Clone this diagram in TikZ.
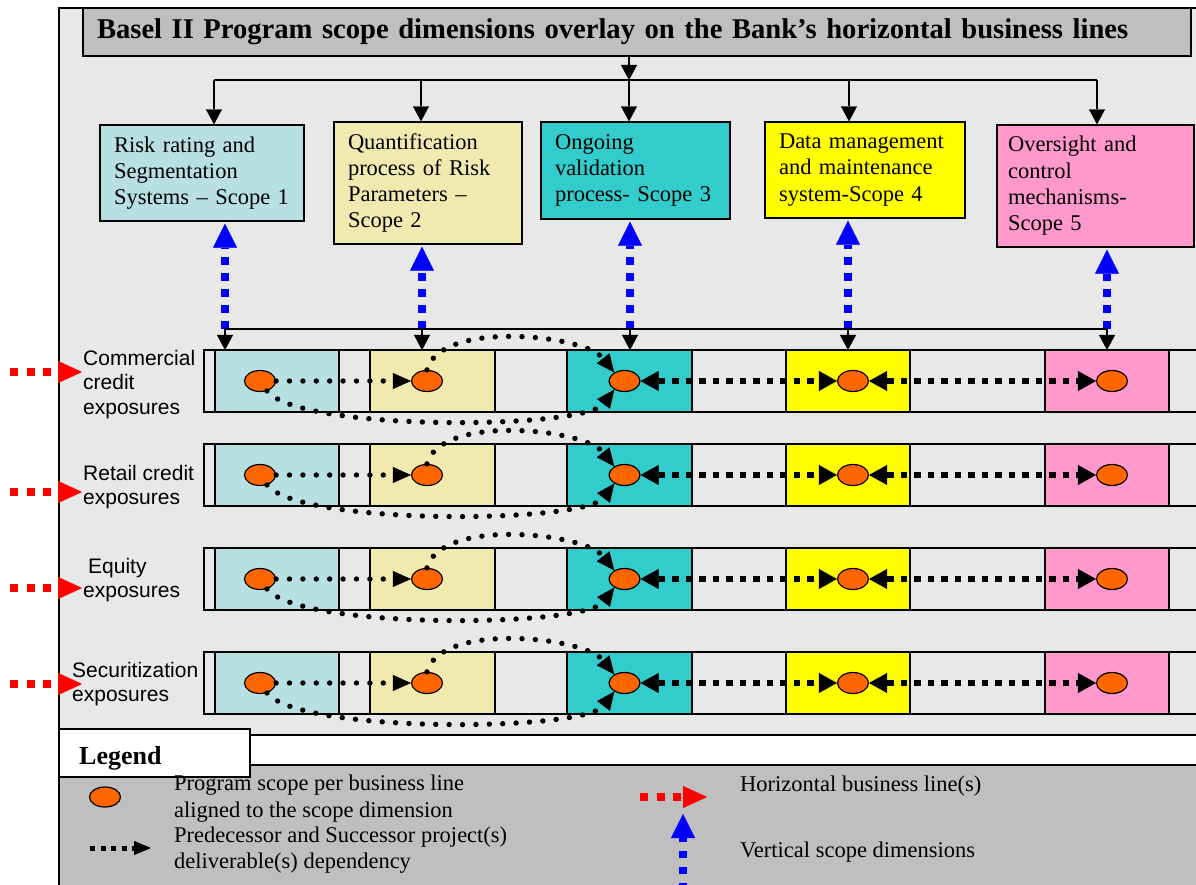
\documentclass[tikz,border=0pt]{standalone}
\usepackage{fontspec}
\setmainfont{Liberation Serif}
\setsansfont{Liberation Sans}
\usetikzlibrary{arrows.meta,shapes.geometric}

\begin{document}
\begin{tikzpicture}[x=1pt,y=1pt,
  scopebox/.style={draw=black,line width=1.3pt,inner xsep=14pt,inner ysep=0pt,align=left,
    font=\fontsize{22.5}{26.3}\selectfont},
  blob/.style={ellipse,draw=black,line width=1.2pt,fill=blobColor,minimum width=31pt,
    minimum height=21pt,inner sep=0pt},
  feed/.style={draw=black,line width=1.2pt,-{Triangle[length=15pt,width=16pt,line width=0.4pt]}},
  roundlink/.style={draw=black,line width=5.4pt,line cap=round,dash pattern=on 0pt off 13.4pt,
    -{Triangle[length=18pt,width=16pt,line width=0.4pt]}},
  sqlink/.style={draw=black,line width=6.5pt,dash pattern=on 6.5pt off 7pt,
    {Triangle[length=18pt,width=20pt,line width=0.4pt]}-{Triangle[length=18pt,width=20pt,line width=0.4pt]}},
  bluedim/.style={draw=blue,line width=7.5pt,dash pattern=on 7.5pt off 8.5pt,
    -{Triangle[length=24pt,width=24pt,line width=0.4pt]}},
  redline/.style={draw=red,line width=7.5pt,dash pattern=on 8pt off 8.5pt,
    -{Triangle[length=24pt,width=22pt,line width=0.4pt]}},
  rowlabel/.style={anchor=west,align=left,inner sep=0pt,font=\sffamily\fontsize{21}{24.5}\selectfont},
  keytext/.style={anchor=west,align=left,inner sep=0pt,font=\fontsize{22.5}{26.5}\selectfont}]
\definecolor{frameColor}{gray}{0.91}
\definecolor{headColor}{gray}{0.75}
\definecolor{blobColor}{RGB}{255,102,0}
\definecolor{sc1Color}{RGB}{184,224,227}
\definecolor{sc2Color}{RGB}{240,234,176}
\definecolor{sc3Color}{RGB}{51,204,204}
\definecolor{sc4Color}{RGB}{255,255,0}
\definecolor{sc5Color}{RGB}{255,153,204}
\path[use as bounding box,fill=white] (0,0) rectangle (1196,884);
\clip (0,0) rectangle (1196,884);

\path[draw=black,fill=frameColor,line width=1.5pt] (59,149) rectangle (1200,876);
\path[draw=black,fill=headColor,line width=1.5pt] (59,-6) rectangle (1200,119);

\node[draw=black,fill=headColor,line width=1.5pt,minimum width=1108pt,minimum height=48pt,
  inner xsep=14pt,text width=1080pt,align=left,font=\bfseries\fontsize{28.6}{33}\selectfont] (title)
  at (637,852) {Basel II Program scope dimensions overlay on the Bank’s horizontal business lines};

\node[scopebox,fill=sc1Color,text width=176pt,minimum height=96pt] (scope1) at (202,711)
  {Risk rating and\\Segmentation\\Systems – Scope 1};
\node[scopebox,fill=sc2Color,text width=160pt,minimum height=122pt] (scope2) at (428,701)
  {Quantification\\process of Risk\\Parameters –\\Scope 2};
\node[scopebox,fill=sc3Color,text width=161pt,minimum height=97pt] (scope3) at (635.5,713.5)
  {Ongoing\\validation\\process- Scope 3};
\node[scopebox,fill=sc4Color,text width=172pt,minimum height=96pt] (scope4) at (865,714)
  {Data management\\and maintenance\\system-Scope 4};
\node[scopebox,fill=sc5Color,inner xsep=11pt,text width=175pt,minimum height=122pt] (scope5) at (1095.5,698)
  {Oversight and\\control\\mechanisms-\\Scope 5};

\coordinate (hub) at (629,804);
\coordinate (hubL) at (214,804);
\coordinate (hubR) at (1097,804);
\draw[feed] (title.south -| hub) -- (hub);
\draw[line width=1.2pt] (hubL) -- (hubR);
\foreach \n/\x in {1/214,2/421,3/629,4/849,5/1097} {
  \coordinate (top\n) at (\x,804);
  \draw[feed] (top\n) -- (top\n |- scope\n.north);
}

\coordinate (bandtop) at (0,534);
\foreach \r/\yy in {1/503,2/409,3/305,4/201} {
  \path[draw=black,fill=frameColor,line width=1.2pt] (204,\yy-31) rectangle (1200,\yy+31);
  \foreach \xa/\xb/\cc in {215/339/sc1Color,370/495/sc2Color,567/692/sc3Color,786/910/sc4Color,1045/1169/sc5Color}
    \path[draw=black,fill=\cc,line width=1.2pt] (\xa,\yy-31) rectangle (\xb,\yy+31);
  \node[blob] (p\r1) at (260,\yy) {};
  \node[blob] (p\r2) at (427,\yy) {};
  \node[blob] (p\r3) at (624.5,\yy) {};
  \node[blob] (p\r4) at (853,\yy) {};
  \node[blob] (p\r5) at (1112,\yy) {};
  \draw[roundlink] (p\r1.east) -- (p\r2.west);
  \draw[roundlink] (p\r1.-55) .. controls +(33,-41) and +(-30,-40) .. (p\r3.-140);
  \draw[roundlink] (p\r2.90) .. controls +(13,50) and +(-30,38) .. (p\r3.140);
  \draw[sqlink] (p\r3.east) -- (p\r4.west);
  \draw[sqlink] (p\r4.east) -- (p\r5.west);
}

\foreach \n/\x in {1/225,2/422,3/630,4/848,5/1107} {
  \coordinate (dim\n) at (\x,555);
  \draw[bluedim,shorten >=2pt] (dim\n) -- (dim\n |- scope\n.south);
  \draw[feed] (dim\n) -- (dim\n |- bandtop);
}
\draw[line width=1.2pt] (dim1) -- (dim5);

\foreach \r/\yy in {1/512,2/392,3/296,4/200} {
  \coordinate (bl\r) at (10,\yy);
  \coordinate (br\r) at (82,\yy);
  \draw[redline] (bl\r) -- (br\r);
}
\node[rowlabel] (line1) at (83,499.5) {Commercial\\credit\\exposures};
\node[rowlabel] (line2) at (83,397) {Retail credit\\exposures};
\node[rowlabel] (line3) at (83,304) {\hspace*{5pt}Equity\\exposures};
\node[rowlabel] (line4) at (72,200) {Securitization\\exposures};

\node[draw=black,fill=white,line width=1.5pt,minimum width=191pt,minimum height=48pt] (legendbox)
  at (154.5,131) {};
\node[anchor=west,inner sep=0pt,font=\bfseries\fontsize{26}{30}\selectfont] (legendword) at (79,126) {Legend};

\node[blob,minimum height=20pt] (keyblob) at (105,87) {};
\node[keytext] (keyblobtext) at (174,85.5) {Program scope per business line\\aligned to the scope dimension};
\coordinate (keyA) at (90,36);
\coordinate (keyB) at (151,36);
\draw[draw=black,line width=5pt,dash pattern=on 5pt off 5.5pt,
  -{Triangle[length=17pt,width=14pt,line width=0.4pt]}] (keyA) -- (keyB);
\node[keytext] (keylinktext) at (174,34) {Predecessor and Successor project(s)\\deliverable(s) dependency};
\coordinate (keyC) at (640,87);
\coordinate (keyD) at (707,87);
\draw[redline] (keyC) -- (keyD);
\node[keytext] (keyredtext) at (740,98) {Horizontal business line(s)};
\coordinate (keyE) at (683,-6);
\coordinate (keyF) at (683,70);
\draw[bluedim] (keyE) -- (keyF);
\node[keytext] (keybluetext) at (740,32) {Vertical scope dimensions};
\end{tikzpicture}
\end{document}
